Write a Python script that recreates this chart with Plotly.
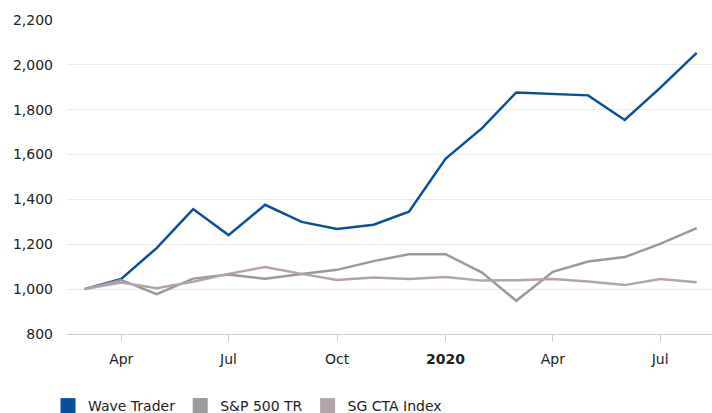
import plotly.graph_objects as go

months = ["2019-03-01", "2019-04-01", "2019-05-01", "2019-06-01", "2019-07-01", "2019-08-01",
          "2019-09-01", "2019-10-01", "2019-11-01", "2019-12-01", "2020-01-01", "2020-02-01",
          "2020-03-01", "2020-04-01", "2020-05-01", "2020-06-01", "2020-07-01", "2020-08-01"]

wave_trader = [1000, 1046, 1183, 1357, 1241, 1376, 1300, 1268, 1287, 1345, 1581, 1718,
               1877, 1872, 1864, 1754, 1897, 2053]
sp500_tr = [1000, 1041, 978, 1047, 1065, 1046, 1068, 1086, 1125, 1156, 1156, 1074,
            948, 1077, 1123, 1143, 1202, 1272]
sg_cta = [1000, 1030, 1004, 1033, 1068, 1099, 1068, 1041, 1052, 1045, 1054, 1038,
          1040, 1045, 1034, 1018, 1045, 1031]

series = [("Wave Trader", wave_trader, "#0b4f9a"),
          ("S&P 500 TR", sp500_tr, "#9a9a9a"),
          ("SG CTA Index", sg_cta, "#b4a4aa")]

tick_vals = ["2019-04-01", "2019-07-01", "2019-10-01", "2020-01-01", "2020-04-01", "2020-07-01"]
tick_text = ["Apr", "Jul", "Oct", "<b>2020</b>", "Apr", "Jul"]
y_ticks = [800, 1000, 1200, 1400, 1600, 1800, 2000, 2200]

FONT = "Verdana, DejaVu Sans, sans-serif"

fig = go.Figure()
for name, vals, color in series:
    fig.add_trace(go.Scatter(x=months, y=vals, mode="lines", name=name,
                             line=dict(color=color, width=2.5), showlegend=False))
for name, vals, color in series:
    fig.add_trace(go.Scatter(x=[None], y=[None], mode="markers", name=name,
                             marker=dict(symbol="square", size=15, color=color),
                             showlegend=True))

fig.update_layout(
    width=712, height=413,
    margin=dict(l=67, r=0, t=20, b=79, autoexpand=False),
    paper_bgcolor="white", plot_bgcolor="white",
    font=dict(family=FONT, size=14, color="#222222"),
    legend=dict(orientation="h",
                xref="container", x=0.0674, xanchor="left",
                yref="container", y=0.017, yanchor="middle",
                font=dict(size=14, color="#222222"), itemwidth=30,
                bgcolor="rgba(0,0,0,0)"),
    xaxis=dict(type="date", range=["2019-02-14", "2020-08-14"],
               tickvals=tick_vals, ticktext=tick_text,
               showgrid=False, showline=True, linecolor="#cccccc", linewidth=1,
               ticks="outside", ticklen=7, tickcolor="#cccccc",
               ticklabelstandoff=5, zeroline=False,
               tickfont=dict(size=14, color="#222222")),
    yaxis=dict(range=[800, 2200], tickvals=y_ticks, tickformat=",d",
               showgrid=True, gridcolor="#ebebeb", gridwidth=1,
               zeroline=False, showline=False, ticks="",
               ticklabelstandoff=13,
               tickfont=dict(size=14, color="#222222")),
)

fig.write_html("out.html", config={"displayModeBar": False},
               post_script="document.body.style.margin='0';")
